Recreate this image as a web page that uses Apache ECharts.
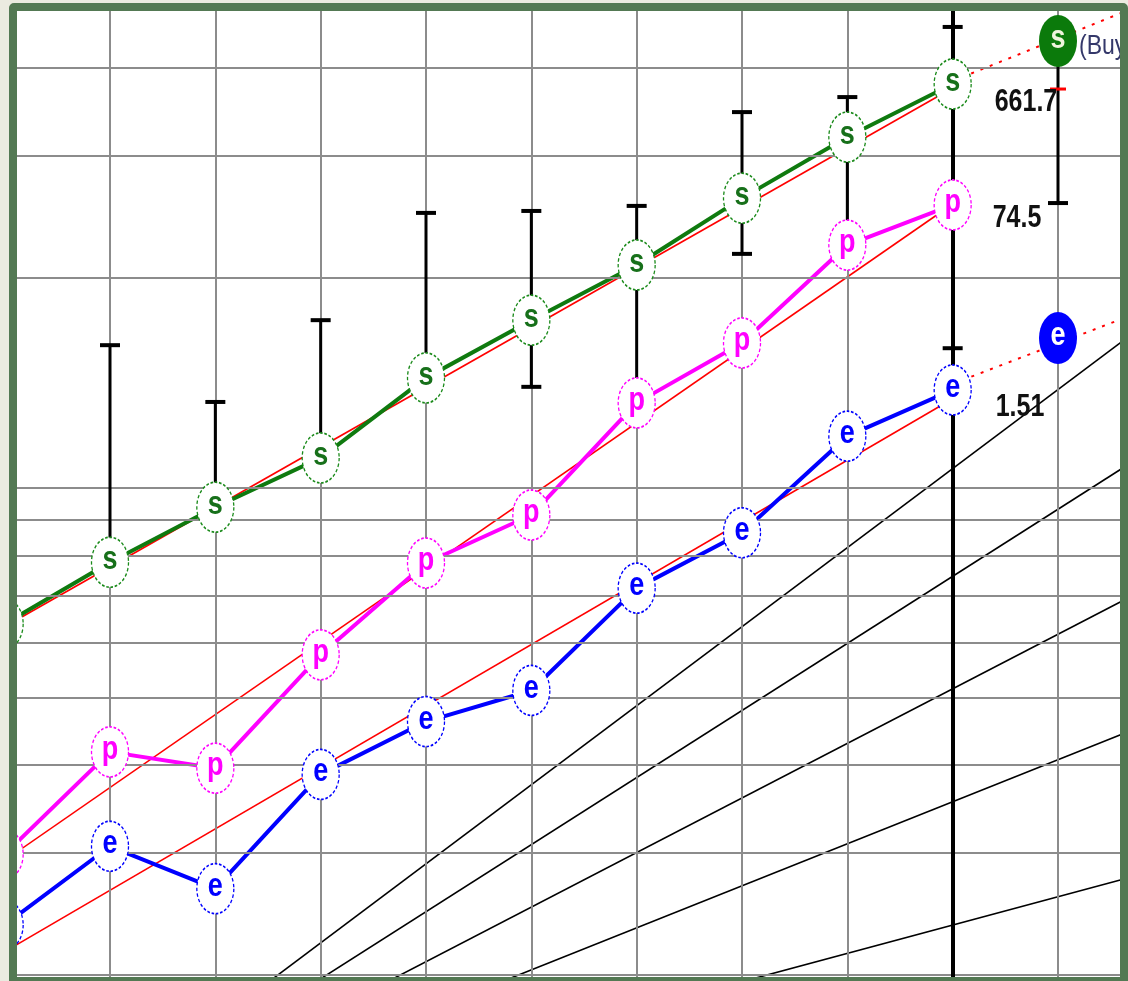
<!DOCTYPE html>
<html>
<head>
<meta charset="utf-8">
<script src="https://cdn.jsdelivr.net/npm/echarts@6/dist/echarts.min.js"></script>
<style>
  html, body { margin: 0; padding: 0; background: #ebebe0; }
  #chart { position: absolute; left: 0; top: 0; width: 1128px; height: 981px; }
  .frame {
    position: absolute; left: 9px; top: 3px; width: 1119px; height: 978px;
    box-sizing: border-box; border: 8px solid #537953; border-bottom-width: 4px;
    border-radius: 5px 5px 0 0; pointer-events: none;
  }
  .mask-left { position: absolute; left: 0; top: 0; width: 9px; height: 981px; background: #ebebe0; }
  .mask-top { position: absolute; left: 0; top: 0; width: 1128px; height: 3px; background: #ebebe0; }
</style>
</head>
<body>
<div id="chart"></div>
<div class="mask-left"></div>
<div class="mask-top"></div>
<div class="frame"></div>
<script>
// periods (index 9 = latest, 10 = projection)
const periods = [0, 1, 2, 3, 4, 5, 6, 7, 8, 9];

// values on the chart's log grid
const sales  = [3.19, 3.91, 4.69, 5.52, 7.19, 8.70, 10.44, 13.02, 15.93, 18.98];
const profit = [1.49, 2.09, 1.98, 2.88, 3.90, 4.57, 6.62, 8.07, 11.15, 12.73];
const eps    = [1.18, 1.53, 1.33, 1.94, 2.31, 2.56, 3.59, 4.31, 5.93, 6.91];

// projected values (period 10)
const salesProj = 21.88;
const epsProj = 8.20;

// trend lines: value at period 0 and period 9
const salesTrend  = [3.16, 18.73];
const profitTrend = [1.46, 12.77];
const epsTrend    = [1.08, 6.71];

// dotted projection lines: value at period 9 and at the right edge
const edgePeriod = 10.6;
const salesDotted = [19.17, 24.0];
const epsDotted   = [7.05, 8.73];

// range bars: [period, low, high]
const ranges = [
  [1, 3.91, 8.01], [2, 4.69, 6.64], [3, 5.52, 8.70], [4, 7.19, 12.40],
  [5, 6.98, 12.48], [6, 6.62, 12.69], [7, 10.83, 17.30], [8, 11.15, 18.18],
  [9, 7.93, 22.92], [10, 12.81, 21.88]
];
const targetTick = [10, 18.67];

// growth reference lines: common start at period 0, end values at the right edge
const growthStart = 0.508;
const growthEnds = [8.09, 5.32, 3.435, 2.213, 1.37];

// grid levels
const yGridLevels = [1, 1.5, 2, 2.5, 3, 3.5, 4, 4.5, 5, 10, 15, 20];
const xGridLevels = [1, 2, 3, 4, 5, 6, 7, 8, 10];
const currentPeriod = 9;

const latestText = ['661.7', '74.5', '1.51'];
const buyText = '(Buy)';

const FONT = "'Liberation Sans', Arial, sans-serif";
const STRETCH = 1.22;  // the source picture is stretched vertically

const pairs = (arr) => periods.map((p, i) => [p, arr[i]]);

function markerSeries(name, data, color, fill) {
  return {
    name: name, type: 'scatter', z: 6, clip: false, silent: true,
    data: data,
    symbol: 'circle', symbolSize: fill ? [38, 52] : [37, 50],
    itemStyle: fill
      ? { color: fill, opacity: 1 }
      : { color: '#ffffff', opacity: 1, borderColor: color, borderWidth: 1.5, borderType: [3, 2] }
  };
}

// text drawn through the axes, stretched vertically like the source
function textSeries(name, data, texts, color, size, weight, dx, dy, align) {
  return {
    name: name, type: 'custom', z: 7, silent: true,
    data: data,
    renderItem: function (params, api) {
      const pt = api.coord([api.value(0), api.value(1)]);
      const d = Array.isArray(dx) ? dx[params.dataIndex] : dx;
      const e = Array.isArray(dy) ? dy[params.dataIndex] : dy;
      return {
        type: 'text', x: pt[0] + d, y: pt[1] + e, scaleY: STRETCH,
        style: {
          text: Array.isArray(texts) ? texts[params.dataIndex] : texts,
          fill: color, font: weight + ' ' + size + 'px ' + FONT,
          align: align || 'center', verticalAlign: 'middle'
        }
      };
    }
  };
}

function plainLine(name, data, color, width, z, type) {
  return {
    name: name, type: 'line', z: z, clip: false, silent: true,
    data: data, symbol: 'none',
    lineStyle: { color: color, width: width, type: type || 'solid' }
  };
}

const chart = echarts.init(document.getElementById('chart'));

const series = [
  {
    name: 'grid', type: 'line', z: 1, silent: true, data: [], symbol: 'none',
    markLine: {
      silent: true, symbol: ['none', 'none'], label: { show: false },
      lineStyle: { color: '#8c8c8c', width: 2, type: 'solid' },
      data: yGridLevels.map(v => ({ yAxis: v })).concat(xGridLevels.map(v => ({ xAxis: v })))
    }
  }
];

growthEnds.forEach((end, k) => {
  series.push(plainLine('growth' + k, [[0, growthStart], [edgePeriod, end]], '#000000', 1.6, 2));
});

series.push(plainLine('salesTrend', [[0, salesTrend[0]], [9, salesTrend[1]]], '#ff0000', 1.6, 3));
series.push(plainLine('profitTrend', [[0, profitTrend[0]], [9, profitTrend[1]]], '#ff0000', 1.6, 3));
series.push(plainLine('epsTrend', [[0, epsTrend[0]], [9, epsTrend[1]]], '#ff0000', 1.6, 3));
series.push(plainLine('salesDotted', [[9, salesDotted[0]], [edgePeriod, salesDotted[1]]], '#ff0000', 2, 3, [3, 7]));
series.push(plainLine('epsDotted', [[9, epsDotted[0]], [edgePeriod, epsDotted[1]]], '#ff0000', 2, 3, [3, 7]));

series.push(plainLine('sales', pairs(sales), '#0f7a0f', 4, 4));
series.push(plainLine('profit', pairs(profit), '#ff00ff', 4, 4));
series.push(plainLine('eps', pairs(eps), '#0000ff', 4, 4));

series.push({
  name: 'current', type: 'line', z: 5, silent: true, data: [], symbol: 'none',
  markLine: {
    silent: true, symbol: ['none', 'none'], label: { show: false },
    lineStyle: { color: '#000000', width: 4, type: 'solid' },
    data: [{ xAxis: currentPeriod }]
  }
});

series.push({
  name: 'ranges', type: 'custom', z: 5, silent: true,
  data: ranges,
  encode: { x: 0, y: [1, 2] },
  renderItem: function (params, api) {
    const x = api.value(0);
    const lo = api.coord([x, api.value(1)]);
    const hi = api.coord([x, api.value(2)]);
    const w = 10;
    const s = { stroke: '#000000', lineWidth: 3 };
    const c = { stroke: '#000000', lineWidth: 4 };
    return {
      type: 'group',
      children: [
        { type: 'line', shape: { x1: lo[0], y1: lo[1], x2: hi[0], y2: hi[1] }, style: s },
        { type: 'line', shape: { x1: hi[0] - w, y1: hi[1], x2: hi[0] + w, y2: hi[1] }, style: c },
        { type: 'line', shape: { x1: lo[0] - w, y1: lo[1], x2: lo[0] + w, y2: lo[1] }, style: c }
      ]
    };
  }
});

series.push({
  name: 'target', type: 'scatter', z: 5, silent: true,
  data: [targetTick], symbol: 'rect', symbolSize: [16, 3],
  itemStyle: { color: '#ff0000', opacity: 1 }
});

series.push(markerSeries('salesMarks', pairs(sales), '#1a8a1a'));
series.push(markerSeries('profitMarks', pairs(profit), '#ff00ff'));
series.push(markerSeries('epsMarks', pairs(eps), '#0000ff'));
series.push(markerSeries('salesProj', [[10, salesProj]], null, '#0b7a0b'));
series.push(markerSeries('epsProj', [[10, epsProj]], null, '#0000ff'));

series.push(textSeries('salesLetters', pairs(sales), 's', '#17701a', 27, 'bold', 0, -2));
series.push(textSeries('profitLetters', pairs(profit), 'p', '#ff00ff', 27, 'bold', 0, -2));
series.push(textSeries('epsLetters', pairs(eps), 'e', '#0000ff', 27, 'bold', 0, -2));
series.push(textSeries('salesProjLetter', [[10, salesProj]], 's', '#eef5dc', 27, 'bold', 0, -2));
series.push(textSeries('epsProjLetter', [[10, epsProj]], 'e', '#ffffff', 27, 'bold', 0, -2));
series.push(textSeries('buy', [[10, salesProj]], buyText, '#34386a', 23, 'normal', 21, 5, 'left'));
series.push(textSeries('latest',
  [[currentPeriod, sales[9]], [currentPeriod, profit[9]], [currentPeriod, eps[9]]],
  latestText, '#111111', 25, 'bold', [42, 40, 43], [19, 14, 18], 'left'));

chart.setOption({
  animation: false,
  grid: { left: 17, top: 11, right: 8, bottom: 4, show: true, backgroundColor: '#ffffff', borderWidth: 0 },
  xAxis: {
    type: 'value', min: 0.1171, max: 10.5886,
    axisLine: { show: false }, axisTick: { show: false }, axisLabel: { show: false }, splitLine: { show: false }
  },
  yAxis: {
    type: 'log', logBase: 10, min: 0.99341, max: 24.16,
    axisLine: { show: false }, axisTick: { show: false }, axisLabel: { show: false },
    splitLine: { show: false }, minorSplitLine: { show: false }
  },
  series: series
});
</script>
</body>
</html>
